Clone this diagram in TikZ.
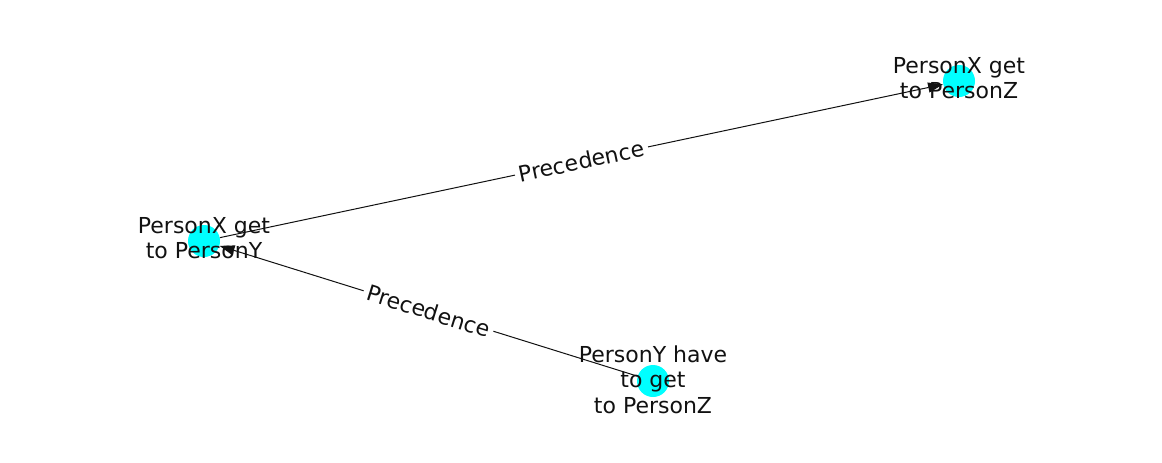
\documentclass[tikz,border=0pt]{standalone}
\usepackage{fontspec}
\setmainfont{DejaVu Sans}
\usepackage{xcolor}
\usepackage{tikz}
\usetikzlibrary{arrows.meta}
\definecolor{EvtCyan}{HTML}{00FFFF}
\definecolor{EvtInk}{HTML}{111111}
\tikzset{
  event/.style={circle,fill=EvtCyan,draw=none,minimum size=24pt,inner sep=0pt},
  eventtext/.style={align=center,text=EvtInk,inner sep=0pt,
    font=\fontsize{16.5}{18.9}\selectfont},
  relation/.style={-{Triangle[length=11.25pt,width=7.5pt]},line width=0.75pt,draw=EvtInk},
  reltext/.style={midway,sloped,fill=white,inner sep=3pt,text=EvtInk,
    font=\fontsize{16.5}{18}\selectfont}
}
\begin{document}
\begin{tikzpicture}[x=0.75pt,y=-0.75pt]
  \useasboundingbox (0,0) rectangle (1162,462);
  \node[event] (xy) at (204,241) {};
  \node[event] (xz) at (959,81) {};
  \node[event] (yz) at (653,381) {};
  \draw[relation] (xy) -- (xz) node[reltext] {Precedence};
  \draw[relation] (yz) -- (xy) node[reltext] {Precedence};
  \node[eventtext] (xyt) at ([yshift=2pt]xy) {PersonX get\\to PersonY};
  \node[eventtext] (xzt) at ([yshift=2pt]xz) {PersonX get\\to PersonZ};
  \node[eventtext] (yzt) at ([yshift=1pt]yz) {PersonY have\\to get\\to PersonZ};
\end{tikzpicture}
\end{document}
